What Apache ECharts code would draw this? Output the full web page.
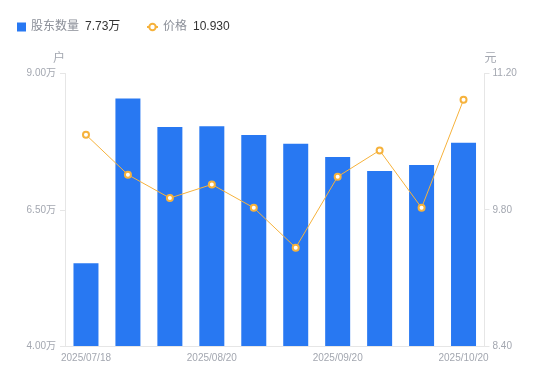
<!DOCTYPE html>
<html>
<head>
<meta charset="utf-8">
<script src="https://cdn.jsdelivr.net/npm/echarts@6/dist/echarts.min.js"></script>
<style>
html,body{margin:0;padding:0;background:#fff;}
#c{width:550px;height:381px;}
</style>
</head>
<body>
<div id="c"></div>
<script>
var categories = ['2025/07/18','2025/07/31','2025/08/10','2025/08/20','2025/08/31','2025/09/10','2025/09/20','2025/09/30','2025/10/10','2025/10/20'];
var holders = [5.52, 8.54, 8.02, 8.03, 7.87, 7.71, 7.47, 7.21, 7.32, 7.73]; // 万户
var prices = [10.57, 10.16, 9.92, 10.06, 9.82, 9.41, 10.14, 10.41, 9.82, 10.93];
var leftTicks = [4.00, 6.50, 9.00];
var rightTicks = [8.40, 9.80, 11.20];

var FONT = '"Liberation Sans", "Noto Sans CJK SC", sans-serif';
var labelColor = '#a3a7b0';
var lineColor = '#e6e6e6';
var barColor = '#2878f2';
var priceColor = '#f6b23c';

var richText = {
  n: { color: '#8b8f98', fontSize: 12, fontFamily: FONT, padding: [0, 6, 0, 0] },
  v: { color: '#333333', fontSize: 12, fontFamily: FONT }
};

var chart = echarts.init(document.getElementById('c'));
chart.setOption({
  animation: false,
  textStyle: { fontFamily: FONT },
  legend: [
    {
      left: 12,
      top: 16,
      itemWidth: 9,
      itemHeight: 9,
      data: [{ name: '股东数量', icon: 'rect' }],
      formatter: function (name) {
        return '{n|' + name + '}{v|' + holders[holders.length - 1].toFixed(2) + '万}';
      },
      textStyle: { fontFamily: FONT, rich: richText }
    },
    {
      left: 141,
      top: 16,
      itemWidth: 11,
      itemHeight: 8,
      data: [{ name: '价格', lineStyle: { width: 2 } }],
      formatter: function (name) {
        return '{n|' + name + '}{v|' + prices[prices.length - 1].toFixed(3) + '}';
      },
      textStyle: { fontFamily: FONT, rich: richText }
    }
  ],
  grid: { left: 65, right: 65.5, top: 73.5, bottom: 35 },
  xAxis: {
    type: 'category',
    data: categories,
    axisLine: { lineStyle: { color: lineColor } },
    axisTick: { show: false },
    axisLabel: { color: labelColor, fontSize: 10, margin: 7, interval: 2, fontFamily: FONT }
  },
  yAxis: [
    {
      type: 'value',
      name: '户',
      nameGap: 9,
      nameTextStyle: { color: labelColor, fontSize: 12, align: 'right', fontFamily: FONT },
      min: leftTicks[0],
      max: leftTicks[2],
      interval: leftTicks[1] - leftTicks[0],
      axisLine: { show: true, lineStyle: { color: lineColor } },
      axisTick: { show: true, length: 5, lineStyle: { color: lineColor } },
      splitLine: { show: false },
      axisLabel: {
        color: labelColor, fontSize: 10, margin: 9, fontFamily: FONT,
        formatter: function (v) { return v.toFixed(2) + '万'; }
      }
    },
    {
      type: 'value',
      name: '元',
      nameGap: 9,
      nameTextStyle: { color: labelColor, fontSize: 12, align: 'left', fontFamily: FONT },
      min: rightTicks[0],
      max: rightTicks[2],
      interval: rightTicks[1] - rightTicks[0],
      axisLine: { show: true, lineStyle: { color: lineColor } },
      axisTick: { show: true, length: 5, lineStyle: { color: lineColor } },
      splitLine: { show: false },
      axisLabel: {
        color: labelColor, fontSize: 10, margin: 8, fontFamily: FONT,
        formatter: function (v) { return v.toFixed(2); }
      }
    }
  ],
  series: [
    {
      name: '股东数量',
      type: 'bar',
      yAxisIndex: 0,
      barWidth: 25,
      data: holders,
      itemStyle: { color: barColor }
    },
    {
      name: '价格',
      type: 'line',
      yAxisIndex: 1,
      data: prices,
      symbol: 'circle',
      symbolSize: 6,
      showAllSymbol: true,
      lineStyle: { color: priceColor, width: 1 },
      itemStyle: { color: '#ffffff', borderColor: priceColor, borderWidth: 2 }
    }
  ]
});
</script>
</body>
</html>
